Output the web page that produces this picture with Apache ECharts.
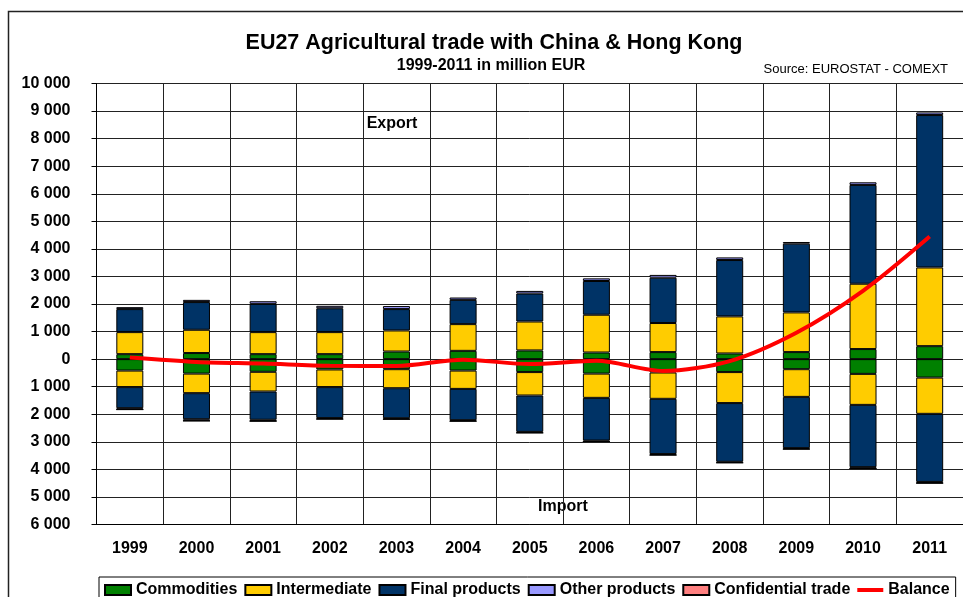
<!DOCTYPE html>
<html>
<head>
<meta charset="utf-8">
<script src="https://cdn.jsdelivr.net/npm/echarts@6/dist/echarts.min.js"></script>
<style>
  html, body { margin: 0; padding: 0; background: #fff; }
  #chart { width: 963px; height: 597px; }
</style>
</head>
<body>
<div id="chart"></div>
<script>
// years on the category axis
let years = ['1999', '2000', '2001', '2002', '2003', '2004', '2005', '2006', '2007', '2008', '2009', '2010', '2011']

// export (positive, million EUR)
let exp_comm = [180, 220, 180, 180, 275, 300, 315, 240, 255, 205, 255, 365, 470]
let exp_inter = [800, 845, 800, 800, 765, 970, 1050, 1370, 1055, 1345, 1440, 2370, 2855]
let exp_final = [835, 1005, 1025, 865, 775, 880, 1015, 1225, 1645, 2045, 2495, 3585, 5530]
let exp_other = [70, 80, 95, 90, 110, 85, 95, 95, 100, 95, 60, 95, 95]

// import (negative, million EUR)
let imp_comm = [-415, -525, -460, -375, -365, -415, -470, -525, -485, -470, -365, -535, -670]
let imp_inter = [-600, -710, -715, -640, -690, -665, -850, -880, -955, -1125, -1005, -1125, -1315]
let imp_final = [-765, -945, -1025, -1125, -1090, -1135, -1320, -1550, -2005, -2130, -1860, -2260, -2470]
let imp_other = [-50, -60, -50, -35, -35, -35, -35, -35, -35, -35, -35, -50, -45]

let confidential = [0, 0, 0, 0, 0, 0, 0, 0, 0, 0, 0, 0, 0]
let balance = [60, -100, -160, -240, -250, -20, -180, -60, -430, -70, 960, 2480, 4450]

const FONT = '"Liberation Sans", Arial, sans-serif'
const GRID_LINE = '#222'

function bar(name, data, color) {
    return {
        name: name,
        type: 'bar',
        stack: 'trade',
        barWidth: 27,
        data: data,
        itemStyle: {
            color: color,
            borderColor: '#000',
            borderWidth: 1
        }
    }
}

function fmt(v) {
    let s = String(Math.abs(v))
    return s.replace(/\B(?=(\d{3})+(?!\d))/g, ' ')
}

function label(x, y, text, font, align) {
    return {
        type: 'text',
        silent: true,
        style: {
            x: x, y: y, text: text,
            textAlign: align || 'center', textVerticalAlign: 'middle',
            font: font + ' ' + FONT, fill: '#000'
        }
    }
}

let option = {
    animation: false,
    backgroundColor: '#fff',
    textStyle: { fontFamily: FONT },
    graphic: [
        {
            type: 'rect',
            silent: true,
            shape: { x: 8.5, y: 11.5, width: 1000, height: 700 },
            style: { fill: 'none', stroke: '#222', lineWidth: 1.5 }
        },
        label(494, 43, 'EU27 Agricultural trade with China & Hong Kong', 'bold 21.5px'),
        label(491, 66, '1999-2011 in million EUR', 'bold 16px'),
        label(948, 69, 'Source: EUROSTAT - COMEXT', '13px', 'right'),
        label(392, 124, 'Export', 'bold 16px'),
        label(563, 507, 'Import', 'bold 16px')
    ],
    legend: {
        left: 99,
        top: 577,
        width: 900,
        padding: [5, 6, 8, 5],
        itemGap: 7,
        itemWidth: 26,
        itemHeight: 10,
        borderColor: '#000',
        borderWidth: 1,
        textStyle: { fontFamily: FONT, fontWeight: 'bold', fontSize: 16, color: '#000' },
        data: [
            { name: 'Commodities', icon: 'rect' },
            { name: 'Intermediate', icon: 'rect' },
            { name: 'Final products', icon: 'rect' },
            { name: 'Other products', icon: 'rect' },
            { name: 'Confidential trade', icon: 'rect' },
            { name: 'Balance', icon: 'path://M0,0h26v4h-26z' }
        ]
    },
    grid: {
        left: 96.5,
        top: 83.5,
        width: 871.5,
        height: 441
    },
    xAxis: {
        type: 'category',
        data: years,
        position: 'bottom',
        axisLine: { onZero: false, lineStyle: { color: '#000', width: 1 } },
        axisTick: { show: false },
        axisLabel: {
            interval: 0,
            margin: 16,
            color: '#000',
            fontFamily: FONT,
            fontWeight: 'bold',
            fontSize: 16
        },
        splitLine: { show: true, interval: 0, lineStyle: { color: GRID_LINE, width: 1 } }
    },
    yAxis: {
        type: 'value',
        min: -6000,
        max: 10000,
        interval: 1000,
        axisLine: { show: true, lineStyle: { color: '#000', width: 1 } },
        axisTick: { show: true, inside: false, length: 5, lineStyle: { color: '#000' } },
        axisLabel: {
            margin: 26,
            color: '#000',
            fontFamily: FONT,
            fontWeight: 'bold',
            fontSize: 16,
            formatter: fmt
        },
        splitLine: { show: true, lineStyle: { color: GRID_LINE, width: 1 } }
    },
    series: [
        bar('Commodities', exp_comm, '#008000'),
        bar('Commodities', imp_comm, '#008000'),
        bar('Intermediate', exp_inter, '#FFCC00'),
        bar('Intermediate', imp_inter, '#FFCC00'),
        bar('Final products', exp_final, '#003366'),
        bar('Final products', imp_final, '#003366'),
        bar('Other products', exp_other, '#9999FF'),
        bar('Other products', imp_other, '#9999FF'),
        bar('Confidential trade', confidential, '#FF8080'),
        {
            name: 'Balance',
            type: 'line',
            data: balance,
            smooth: 0.3,
            symbol: 'none',
            z: 5,
            lineStyle: { color: '#FF0000', width: 4 },
            itemStyle: { color: '#FF0000' }
        }
    ]
}

const dom = document.getElementById('chart')
const myChart = echarts.init(dom)
if (option && typeof option === 'object') {
    myChart.setOption(option, true)
}
</script>
</body>
</html>
